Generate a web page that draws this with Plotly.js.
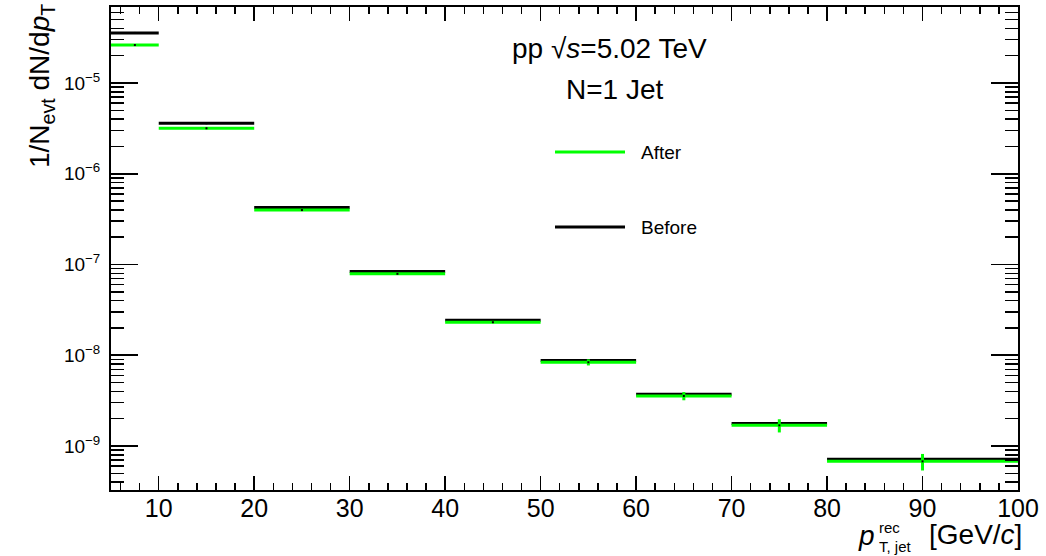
<!DOCTYPE html>
<html>
<head>
<meta charset="utf-8">
<script src="https://cdn.plot.ly/plotly-3.0.1.min.js"></script>
<style>html,body{margin:0;padding:0;background:#fff}</style>
</head>
<body>
<div id="chart" style="width:1046px;height:556px"></div>
<script>
// Jet pT bins (GeV/c)
const binLow  = [5, 10, 20, 30, 40, 50, 60, 70, 80];
const binHigh = [10, 20, 30, 40, 50, 60, 70, 80, 100];

// 1/N_evt dN/dpT per bin
const before   = [3.56e-5, 3.60e-6, 4.25e-7, 8.37e-8, 2.43e-8, 8.74e-9, 3.72e-9, 1.77e-9, 7.13e-10];
const after    = [2.62e-5, 3.17e-6, 3.98e-7, 7.89e-8, 2.31e-8, 8.37e-9, 3.56e-9, 1.69e-9, 6.77e-10];
const afterErr = [2.0e-7, 2.5e-8, 3.0e-9, 6.0e-10, 3.0e-10, 6.5e-10, 3.7e-10, 2.8e-10, 1.4e-10];

// Axis tick labels
const xTicks = [10, 20, 30, 40, 50, 60, 70, 80, 90, 100];
const yDecades = [-9, -8, -7, -6, -5];

const centers = binLow.map((lo, i) => (lo + binHigh[i]) / 2);
const halfW = binLow.map((lo, i) => (binHigh[i] - lo) / 2);

const GREEN = '#00ff00';
const FONT = 'Liberation Sans, Arial, Helvetica, sans-serif';

// plot frame in pixels, used to place text and legend samples
const L = 111, R = 1018, T = 7, B = 490;
const px = x => (x - L) / (R - L);
const py = y => (B - y) / (B - T);

const traces = [
  {
    name: 'Before', x: centers, y: before, type: 'scatter', mode: 'markers',
    marker: {color: '#000', size: 2, symbol: 'square'},
    error_x: {type: 'data', array: halfW, visible: true, color: '#000', thickness: 3, width: 0},
    showlegend: false, hoverinfo: 'x+y'
  },
  {
    name: 'After', x: centers, y: after, type: 'scatter', mode: 'markers',
    marker: {color: '#000', size: 2, symbol: 'square'},
    error_x: {type: 'data', array: halfW, visible: true, color: GREEN, thickness: 3, width: 0},
    error_y: {type: 'data', array: afterErr, visible: true, color: GREEN, thickness: 3, width: 0},
    showlegend: false, hoverinfo: 'x+y'
  }
];

// minor log ticks 2..9 in each decade
const yMinor = [];
for (let d = -10; d <= -4; d++) for (let m = 2; m <= 9; m++) yMinor.push(m * Math.pow(10, d));

const layout = {
  width: 1046, height: 556,
  margin: {l: L, r: 1046 - R, t: T, b: 556 - B, pad: 0},
  paper_bgcolor: '#fff', plot_bgcolor: '#fff',
  font: {family: FONT, color: '#000'},
  showlegend: false,
  xaxis: {
    range: [5, 100], tickmode: 'array', tickvals: xTicks, ticktext: xTicks.map(String),
    ticks: 'inside', ticklen: 14, tickwidth: 1.5, tickcolor: '#000',
    minor: {dtick: 2, tick0: 0, ticks: 'inside', ticklen: 7, tickwidth: 1.5, tickcolor: '#000'},
    showline: true, linecolor: '#000', linewidth: 2, mirror: 'allticks',
    showgrid: false, zeroline: false,
    tickfont: {size: 25, family: FONT, color: '#000'},
    ticklabelstandoff: -5
  },
  yaxis: {
    type: 'log', range: [-9.485, -4.1625],
    tickmode: 'array', tickvals: yDecades.map(d => Math.pow(10, d)),
    ticktext: yDecades.map(d => '10<sup>\u2212' + (-d) + '</sup>'),
    ticks: 'inside', ticklen: 27, tickwidth: 1.5, tickcolor: '#000',
    minor: {tickmode: 'array', tickvals: yMinor, ticks: 'inside', ticklen: 13, tickwidth: 1.5, tickcolor: '#000'},
    showline: true, linecolor: '#000', linewidth: 2, mirror: 'allticks',
    showgrid: false, zeroline: false,
    tickfont: {size: 19, family: FONT, color: '#000'},
    ticklabelstandoff: 5
  },
  shapes: [
    {type: 'line', xref: 'paper', yref: 'paper', x0: px(555), x1: px(625), y0: py(152), y1: py(152),
     line: {color: GREEN, width: 3}},
    {type: 'line', xref: 'paper', yref: 'paper', x0: px(555), x1: px(625), y0: py(227), y1: py(227),
     line: {color: '#000', width: 3}}
  ],
  annotations: [
    {text: 'pp \u221A<i>s</i>=5.02 TeV', xref: 'paper', yref: 'paper', x: px(609), y: py(48),
     xanchor: 'center', yanchor: 'middle', showarrow: false, font: {size: 28, family: FONT, color: '#000'}},
    {text: 'N=1 Jet', xref: 'paper', yref: 'paper', x: px(614), y: py(90),
     xanchor: 'center', yanchor: 'middle', showarrow: false, font: {size: 28, family: FONT, color: '#000'}},
    {text: 'After', xref: 'paper', yref: 'paper', x: px(639), y: py(152),
     xanchor: 'left', yanchor: 'middle', showarrow: false, font: {size: 19, family: FONT, color: '#000'}},
    {text: 'Before', xref: 'paper', yref: 'paper', x: px(639), y: py(227),
     xanchor: 'left', yanchor: 'middle', showarrow: false, font: {size: 19, family: FONT, color: '#000'}},
    {text: '1/N<sub>evt</sub> dN/d<i>p</i><sub>T</sub>', xref: 'paper', yref: 'paper', x: px(41), y: py(86),
     textangle: -90, xanchor: 'center', yanchor: 'middle', showarrow: false,
     font: {size: 28, family: FONT, color: '#000'}},
    {text: '<i>p</i>', xref: 'paper', yref: 'paper', x: px(877), y: py(535),
     xanchor: 'right', yanchor: 'middle', showarrow: false, font: {size: 28, family: FONT, color: '#000'}},
    {text: 'rec', xref: 'paper', yref: 'paper', x: px(877), y: py(527),
     xanchor: 'left', yanchor: 'middle', showarrow: false, font: {size: 15, family: FONT, color: '#000'}},
    {text: 'T, jet', xref: 'paper', yref: 'paper', x: px(877), y: py(546),
     xanchor: 'left', yanchor: 'middle', showarrow: false, font: {size: 15, family: FONT, color: '#000'}},
    {text: '[GeV/<i>c</i>]', xref: 'paper', yref: 'paper', x: px(1024), y: py(534),
     xanchor: 'right', yanchor: 'middle', showarrow: false, font: {size: 28, family: FONT, color: '#000'}}
  ]
};

Plotly.newPlot('chart', traces, layout, {displayModeBar: false, staticPlot: true});
</script>
</body>
</html>
